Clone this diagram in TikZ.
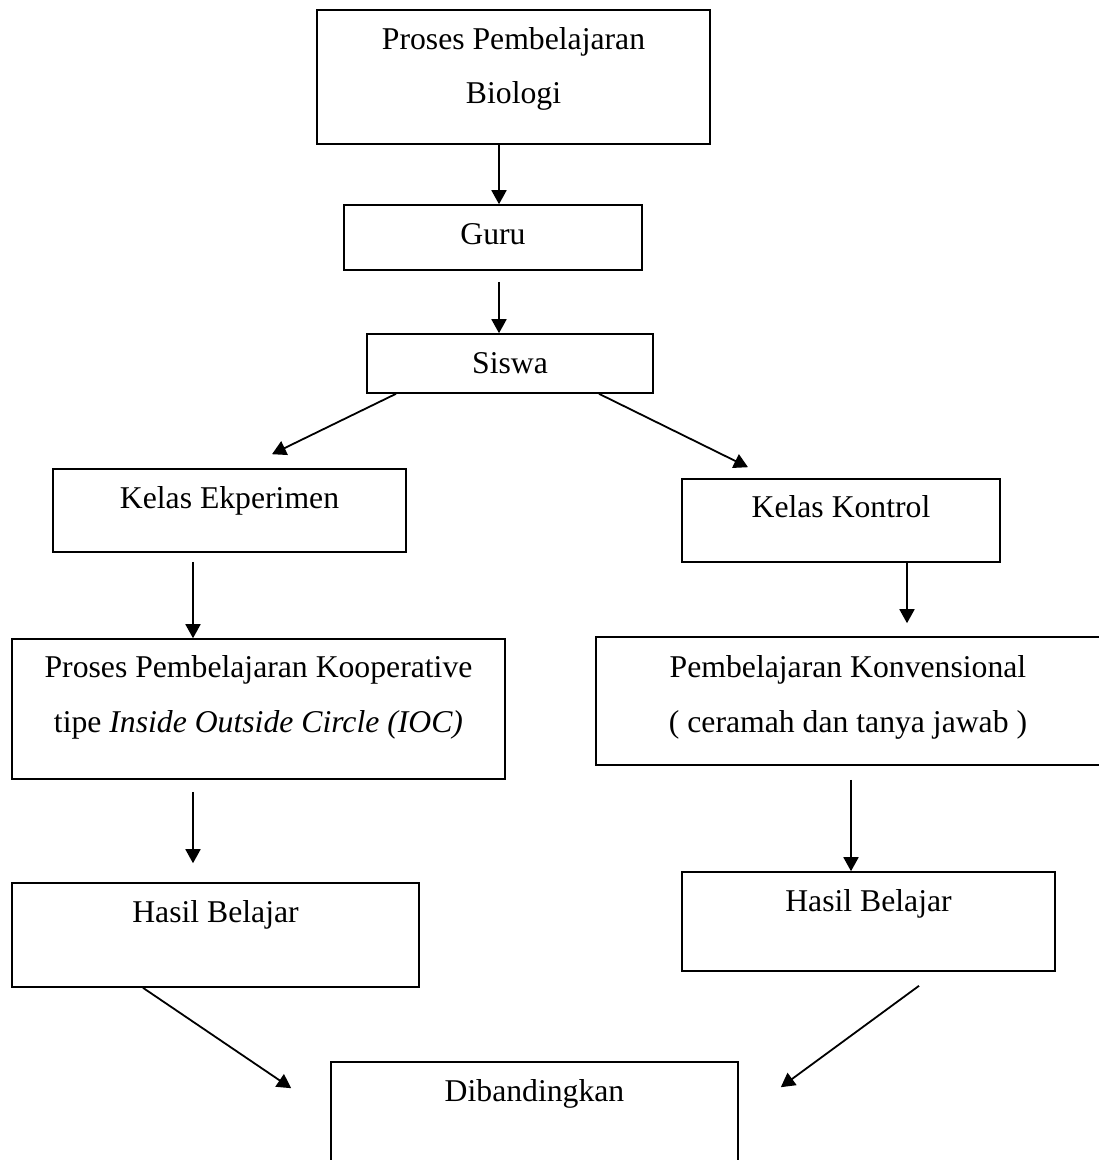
\documentclass[tikz,border=0pt]{standalone}
\usepackage{fontspec}
\setmainfont{Liberation Serif}
\usetikzlibrary{arrows.meta}
\begin{document}
\begin{tikzpicture}[x=1pt,y=-1pt,
  box/.style={draw=black, line width=1.6pt, rectangle, inner sep=0pt, fill=none},
  txt/.style={inner sep=0pt, anchor=base, font=\fontsize{31.7}{38}\selectfont},
  arr/.style={line width=1.8pt, -{Triangle[length=14pt,width=15pt]}}]
\clip (0,0) rectangle (1099,1160);
\fill[white] (0,0) rectangle (1099,1160);
% boxes
\node[box, minimum width=393pt, minimum height=134pt] (b1) at (513.5,77) {};
\node[box, minimum width=298pt, minimum height=65pt] (b2) at (493,237.5) {};
\node[box, minimum width=286pt, minimum height=59pt] (b3) at (510,363.5) {};
\node[box, minimum width=353pt, minimum height=83pt] (b4) at (229.5,510.5) {};
\node[box, minimum width=318pt, minimum height=83pt] (b5) at (841,520.5) {};
\node[box, minimum width=493pt, minimum height=140pt] (b6) at (258.5,709) {};
\node[box, minimum width=504pt, minimum height=128pt] (b7) at (848,701) {};
\node[box, minimum width=407pt, minimum height=104pt] (b8) at (215.5,935) {};
\node[box, minimum width=373pt, minimum height=99pt] (b9) at (868.5,921.5) {};
\node[box, minimum width=407pt, minimum height=118pt] (b10) at (534.5,1121) {};
% texts
\node[txt] (t1a) at ([yshift=-40pt]b1.north) {Proses Pembelajaran};
\node[txt] (t1b) at ([yshift=-94pt]b1.north) {Biologi};
\node[txt] (t2) at ([yshift=-40pt]b2.north) {Guru};
\node[txt] (t3) at ([yshift=-40pt]b3.north) {Siswa};
\node[txt] (t4) at ([yshift=-40pt]b4.north) {Kelas Ekperimen};
\node[txt] (t5) at ([yshift=-39pt]b5.north) {Kelas Kontrol};
\node[txt] (t6a) at ([yshift=-39pt]b6.north) {Proses Pembelajaran Kooperative};
\node[txt] (t6b) at ([yshift=-94pt]b6.north) {tipe \textit{Inside Outside Circle (IOC)}};
\node[txt] (t7a) at ([yshift=-41pt]b7.north) {Pembelajaran Konvensional};
\node[txt] (t7b) at ([yshift=-96pt]b7.north) {( ceramah dan tanya jawab )};
\node[txt] (t8) at ([yshift=-40pt]b8.north) {Hasil Belajar};
\node[txt] (t9) at ([yshift=-40pt]b9.north) {Hasil Belajar};
\node[txt] (t10) at ([yshift=-40pt]b10.north) {Dibandingkan};
% connectors
\draw[arr] ([xshift=-14.5pt]b1.south) -- ([xshift=6pt]b2.north);
\draw[arr] ([xshift=6pt,yshift=-11pt]b2.south) -- ([xshift=-11pt]b3.north);
\draw[arr] ([xshift=-114pt]b3.south) -- ([xshift=42.5pt,yshift=14pt]b4.north);
\draw[arr] ([xshift=89pt]b3.south) -- ([xshift=-93pt,yshift=11pt]b5.north);
\draw[arr] ([xshift=-36.5pt,yshift=-9pt]b4.south) -- ([xshift=-65.5pt]b6.north);
\draw[arr] ([xshift=66pt]b5.south) -- ([xshift=59pt,yshift=13pt]b7.north);
\draw[arr] ([xshift=-65.5pt,yshift=-12pt]b6.south) -- ([xshift=-22.5pt,yshift=19pt]b8.north);
\draw[arr] ([xshift=3pt,yshift=-14pt]b7.south) -- ([xshift=-17.5pt]b9.north);
\draw[arr] ([xshift=-72.5pt]b8.south) -- ([xshift=-39pt,yshift=-27pt]b10.north west);
\draw[arr] ([xshift=50.5pt,yshift=-14pt]b9.south) -- ([xshift=42pt,yshift=-26pt]b10.north east);
\end{tikzpicture}
\end{document}
